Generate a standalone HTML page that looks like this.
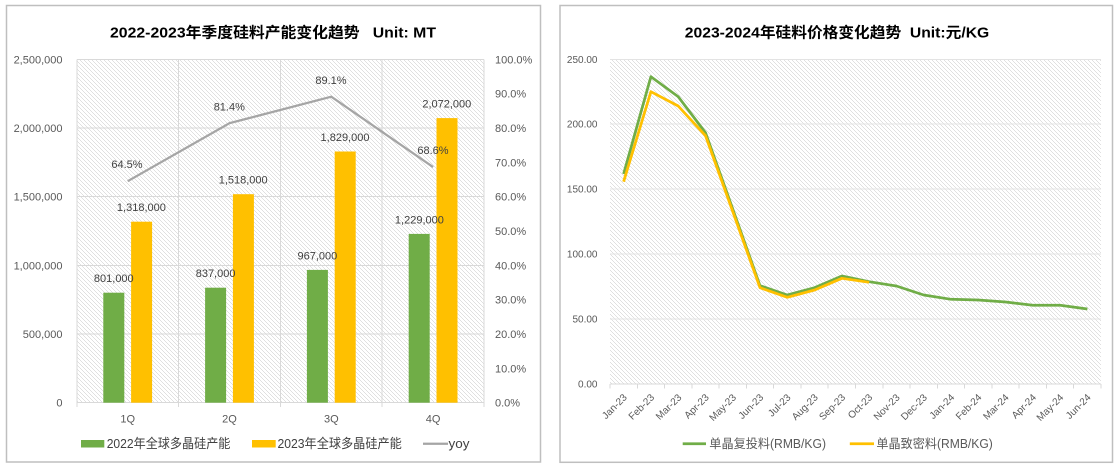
<!DOCTYPE html>
<html><head><meta charset="utf-8"><style>
html,body{margin:0;padding:0;background:#fff;}
svg{display:block;}
text{font-family:"Liberation Sans","Noto Sans CJK SC",sans-serif;}
</style></head><body>
<svg width="1120" height="468" viewBox="0 0 1120 468" xmlns="http://www.w3.org/2000/svg">
<defs>
<pattern id="h" patternUnits="userSpaceOnUse" width="4" height="4">
<rect width="4" height="4" fill="#ffffff"/>
<rect x="0" y="0" width="1" height="1" fill="#e0e0e0"/>
<rect x="1" y="1" width="1" height="1" fill="#e0e0e0"/>
<rect x="2" y="2" width="1" height="1" fill="#e0e0e0"/>
<rect x="3" y="3" width="1" height="1" fill="#e0e0e0"/>
</pattern>
</defs>
<rect width="1120" height="468" fill="#fff"/>

<!-- LEFT CHART -->
<rect x="6.5" y="5.5" width="534" height="456.5" fill="#fff" stroke="#bfbfbf" stroke-width="1.5"/>
<text x="273" y="37.5" text-anchor="middle" font-size="15" font-weight="bold" fill="#000" textLength="326" lengthAdjust="spacingAndGlyphs">2022-2023年季度硅料产能变化趋势&#160;&#160;&#160;Unit: MT</text>
<rect x="76.8" y="59.3" width="407.2" height="343.4" fill="url(#h)"/>
<g stroke="#d9d9d9" stroke-width="1" shape-rendering="crispEdges">
<line x1="76.8" y1="334" x2="484" y2="334"/>
<line x1="76.8" y1="265.3" x2="484" y2="265.3"/>
<line x1="76.8" y1="196.7" x2="484" y2="196.7"/>
<line x1="76.8" y1="128" x2="484" y2="128"/>
<line x1="76.8" y1="59.3" x2="484" y2="59.3"/>
<line x1="76.8" y1="59.3" x2="76.8" y2="407"/>
<line x1="178.6" y1="59.3" x2="178.6" y2="407"/>
<line x1="280.4" y1="59.3" x2="280.4" y2="407"/>
<line x1="382.2" y1="59.3" x2="382.2" y2="407"/>
<line x1="484" y1="59.3" x2="484" y2="407"/>
<line x1="76.8" y1="402.7" x2="484" y2="402.7"/>
</g>
<!-- bars -->
<g fill="#70AD47">
<rect x="103.3" y="292.7" width="21" height="110"/>
<rect x="205.1" y="287.7" width="21" height="115"/>
<rect x="306.9" y="269.9" width="21" height="132.8"/>
<rect x="408.7" y="233.9" width="21" height="168.8"/>
</g>
<g fill="#FFC000">
<rect x="131.1" y="221.7" width="21" height="181"/>
<rect x="232.9" y="194.2" width="21" height="208.5"/>
<rect x="334.7" y="151.5" width="21" height="251.2"/>
<rect x="436.5" y="118.1" width="21" height="284.6"/>
</g>
<polyline points="127.7,181.2 229.5,123.2 331.3,96.7 433.1,167.1" fill="none" stroke="#A5A5A5" stroke-width="2.25"/>
<!-- data labels -->
<g font-size="11" fill="#404040" text-anchor="middle">
<text x="113.8" y="282.2">801,000</text>
<text x="215.6" y="277.2">837,000</text>
<text x="317.4" y="259.4">967,000</text>
<text x="419.4" y="223.4">1,229,000</text>
<text x="141.4" y="211.2">1,318,000</text>
<text x="243.2" y="183.7">1,518,000</text>
<text x="345" y="141">1,829,000</text>
<text x="446.8" y="107.6">2,072,000</text>
<text x="127" y="168">64.5%</text>
<text x="229.3" y="110.5">81.4%</text>
<text x="331" y="84">89.1%</text>
<text x="433" y="154">68.6%</text>
</g>
<!-- left axis -->
<g font-size="11" fill="#595959" text-anchor="end">
<text x="62.5" y="406.7">0</text>
<text x="62.5" y="338">500,000</text>
<text x="62.5" y="269.3">1,000,000</text>
<text x="62.5" y="200.7">1,500,000</text>
<text x="62.5" y="132">2,000,000</text>
<text x="62.5" y="63.3">2,500,000</text>
</g>
<g font-size="11" fill="#595959">
<text x="495" y="406.7">0.0%</text>
<text x="495" y="372.4">10.0%</text>
<text x="495" y="338">20.0%</text>
<text x="495" y="303.7">30.0%</text>
<text x="495" y="269.3">40.0%</text>
<text x="495" y="235">50.0%</text>
<text x="495" y="200.7">60.0%</text>
<text x="495" y="166.3">70.0%</text>
<text x="495" y="132">80.0%</text>
<text x="495" y="97.6">90.0%</text>
<text x="495" y="63.3">100.0%</text>
</g>
<g font-size="11" fill="#595959" text-anchor="middle">
<text x="127.7" y="422.7">1Q</text>
<text x="229.5" y="422.7">2Q</text>
<text x="331.3" y="422.7">3Q</text>
<text x="433.1" y="422.7">4Q</text>
</g>
<!-- legend -->
<rect x="81" y="440" width="23.3" height="7.5" fill="#70AD47"/>
<text x="106.7" y="448" font-size="13" fill="#404040" textLength="123.7" lengthAdjust="spacingAndGlyphs">2022年全球多晶硅产能</text>
<rect x="252" y="440" width="23.7" height="7.5" fill="#FFC000"/>
<text x="277.5" y="448" font-size="13" fill="#404040" textLength="124.3" lengthAdjust="spacingAndGlyphs">2023年全球多晶硅产能</text>
<line x1="423" y1="443.7" x2="448" y2="443.7" stroke="#A5A5A5" stroke-width="2.25"/>
<text x="448.5" y="448" font-size="13" fill="#404040" textLength="21" lengthAdjust="spacingAndGlyphs">yoy</text>

<!-- RIGHT CHART -->
<rect x="560" y="5.5" width="552.5" height="456.8" fill="#fff" stroke="#bfbfbf" stroke-width="1.5"/>
<text x="837" y="37.5" text-anchor="middle" font-size="15" font-weight="bold" fill="#000" textLength="304.5" lengthAdjust="spacingAndGlyphs">2023-2024年硅料价格变化趋势&#160;&#160;Unit:元/KG</text>
<rect x="610" y="59.3" width="491" height="324.5" fill="url(#h)"/>
<g stroke="#e3e3e3" stroke-width="1" shape-rendering="crispEdges">
<line x1="610" y1="318.9" x2="1101" y2="318.9"/>
<line x1="610" y1="254.1" x2="1101" y2="254.1"/>
<line x1="610" y1="189.2" x2="1101" y2="189.2"/>
<line x1="610" y1="124.2" x2="1101" y2="124.2"/>
<line x1="610" y1="59.3" x2="1101" y2="59.3"/>
</g>
<g stroke="#d9d9d9" stroke-width="1" shape-rendering="crispEdges">
<line x1="610" y1="383.8" x2="1101" y2="383.8"/>
<line x1="610" y1="383.8" x2="610" y2="388.5"/>
<line x1="637.3" y1="383.8" x2="637.3" y2="388.5"/>
<line x1="664.6" y1="383.8" x2="664.6" y2="388.5"/>
<line x1="691.8" y1="383.8" x2="691.8" y2="388.5"/>
<line x1="719.1" y1="383.8" x2="719.1" y2="388.5"/>
<line x1="746.4" y1="383.8" x2="746.4" y2="388.5"/>
<line x1="773.7" y1="383.8" x2="773.7" y2="388.5"/>
<line x1="800.9" y1="383.8" x2="800.9" y2="388.5"/>
<line x1="828.2" y1="383.8" x2="828.2" y2="388.5"/>
<line x1="855.5" y1="383.8" x2="855.5" y2="388.5"/>
<line x1="882.8" y1="383.8" x2="882.8" y2="388.5"/>
<line x1="910.1" y1="383.8" x2="910.1" y2="388.5"/>
<line x1="937.3" y1="383.8" x2="937.3" y2="388.5"/>
<line x1="964.6" y1="383.8" x2="964.6" y2="388.5"/>
<line x1="991.9" y1="383.8" x2="991.9" y2="388.5"/>
<line x1="1019.2" y1="383.8" x2="1019.2" y2="388.5"/>
<line x1="1046.4" y1="383.8" x2="1046.4" y2="388.5"/>
<line x1="1073.7" y1="383.8" x2="1073.7" y2="388.5"/>
<line x1="1101" y1="383.8" x2="1101" y2="388.5"/>
</g>
<g font-size="10" fill="#595959" text-anchor="end">
<text x="597.5" y="387.3">0.00</text>
<text x="597.5" y="322.4">50.00</text>
<text x="597.5" y="257.6">100.00</text>
<text x="597.5" y="192.7">150.00</text>
<text x="597.5" y="127.7">200.00</text>
<text x="597.5" y="62.8">250.00</text>
</g>
<!-- series -->
<polyline fill="none" stroke="#70AD47" stroke-width="2.75" stroke-linejoin="round" points="623.6,174 650.9,76.7 678.2,96.7 705.5,132.7 732.8,209.2 760,285.7 787.3,295 814.6,287.7 841.9,276 869.1,281.7 896.4,286 923.7,295 951,299.3 978.2,300 1005.5,302 1032.8,305.3 1060.1,305.3 1087.4,309"/>
<polyline fill="none" stroke="#FFC000" stroke-width="2.75" stroke-linejoin="round" points="623.6,181.7 650.9,91.7 678.2,106 705.5,135.7 732.8,211.7 760,287.7 787.3,297.3 814.6,290 841.9,278.3 869.1,282.3"/>
<!-- x labels -->
<g font-size="10" fill="#595959" text-anchor="end">
<text transform="translate(627.6,398) rotate(-45)">Jan-23</text>
<text transform="translate(654.9,398) rotate(-45)">Feb-23</text>
<text transform="translate(682.2,398) rotate(-45)">Mar-23</text>
<text transform="translate(709.5,398) rotate(-45)">Apr-23</text>
<text transform="translate(736.8,398) rotate(-45)">May-23</text>
<text transform="translate(764,398) rotate(-45)">Jun-23</text>
<text transform="translate(791.3,398) rotate(-45)">Jul-23</text>
<text transform="translate(818.6,398) rotate(-45)">Aug-23</text>
<text transform="translate(845.9,398) rotate(-45)">Sep-23</text>
<text transform="translate(873.1,398) rotate(-45)">Oct-23</text>
<text transform="translate(900.4,398) rotate(-45)">Nov-23</text>
<text transform="translate(927.7,398) rotate(-45)">Dec-23</text>
<text transform="translate(955,398) rotate(-45)">Jan-24</text>
<text transform="translate(982.2,398) rotate(-45)">Feb-24</text>
<text transform="translate(1009.5,398) rotate(-45)">Mar-24</text>
<text transform="translate(1036.8,398) rotate(-45)">Apr-24</text>
<text transform="translate(1064.1,398) rotate(-45)">May-24</text>
<text transform="translate(1091.4,398) rotate(-45)">Jun-24</text>
</g>
<!-- legend -->
<line x1="682.7" y1="443.7" x2="706" y2="443.7" stroke="#70AD47" stroke-width="2.75"/>
<text x="709.3" y="448" font-size="12.5" fill="#595959" textLength="116.7" lengthAdjust="spacingAndGlyphs">单晶复投料(RMB/KG)</text>
<line x1="849.8" y1="443.7" x2="874" y2="443.7" stroke="#FFC000" stroke-width="2.75"/>
<text x="876.4" y="448" font-size="12.5" fill="#595959" textLength="116.4" lengthAdjust="spacingAndGlyphs">单晶致密料(RMB/KG)</text>
</svg>
</body></html>
